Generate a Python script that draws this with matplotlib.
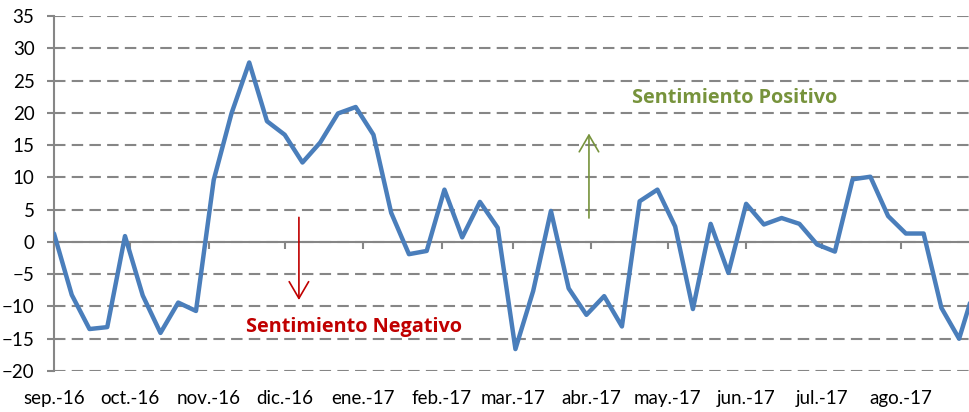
import matplotlib
matplotlib.use('Agg')
import matplotlib.pyplot as plt
import matplotlib.ticker as mticker
import pandas

# weekly sentiment index, first observation 1 sep 2016
start = '2016-09-01'
sentiment = [1.3, -8.2, -13.5, -13.2, 0.9, -8.3, -14.1, -9.4, -10.7, 9.6,
             19.9, 27.8, 18.7, 16.6, 12.3, 15.4, 19.9, 20.9, 16.6, 4.5,
             -1.9, -1.4, 8.1, 0.7, 6.2, 2.2, -16.6, -7.6, 4.8, -7.2,
             -11.3, -8.4, -13.1, 6.3, 8.1, 2.4, -10.4, 2.8, -4.8, 5.9,
             2.7, 3.7, 2.8, -0.4, -1.5, 9.7, 10.1, 4.0, 1.3, 1.3,
             -10.2, -15.0, -6.0]
month_labels = ['sep.-16', 'oct.-16', 'nov.-16', 'dic.-16', 'ene.-17', 'feb.-17',
                'mar.-17', 'abr.-17', 'may.-17', 'jun.-17', 'jul.-17', 'ago.-17']
y_ticks = list(range(-20, 40, 5))

GRID = '#868686'
BLUE = '#4a7ebb'
RED = '#c00000'
GREEN = '#77933c'
NOTE_FONT = ['Open Sans', 'DejaVu Sans']


def sentiment_plot():
    plt.rcParams['font.family'] = ['Lato', 'DejaVu Sans']
    dates = pandas.date_range(start, periods=len(sentiment), freq='7D')
    fig = plt.figure(figsize=(9.69, 4.12), dpi=100)
    ax = fig.add_axes([54 / 969, 1 - 371 / 412, 1 - 54 / 969, 355 / 412])

    ax.plot(dates, sentiment, color=BLUE, lw=3.2, solid_joinstyle='round',
            solid_capstyle='round', zorder=3)

    x0 = pandas.Timestamp(start)
    ax.set_xlim(x0, x0 + pandas.Timedelta(days=360.9))
    ax.set_ylim(-20, 35)
    ax.set_yticks(y_ticks)
    ax.yaxis.grid(True, color=GRID, lw=1.5, linestyle=(0, (5.5, 3)))
    ax.set_axisbelow(True)

    months = pandas.date_range(start, periods=len(month_labels), freq='MS')
    ax.set_xticks(months)
    ax.set_xticklabels(month_labels)
    ax.tick_params(axis='x', length=0, pad=14, labelsize=13.5, colors='black')
    ax.tick_params(axis='y', length=5, width=1.5, color=GRID, pad=9,
                   labelsize=13.5)
    for s in ('top', 'right', 'bottom'):
        ax.spines[s].set_visible(False)
    ax.spines['left'].set_color(GRID)
    ax.spines['left'].set_linewidth(1.5)

    # horizontal axis crossing at zero, with month ticks
    zero = ax.secondary_xaxis(20 / 55)
    zero.set_xticks(months)
    zero.xaxis.set_major_formatter(mticker.NullFormatter())
    zero.tick_params(axis='x', direction='out', length=5, width=1.5, color=GRID)
    zero.spines['bottom'].set_color(GRID)
    zero.spines['bottom'].set_linewidth(1.5)

    ax.annotate('', xy=(x0 + pandas.Timedelta(days=96.6), -9.0),
                xytext=(x0 + pandas.Timedelta(days=96.6), 3.8),
                arrowprops=dict(arrowstyle='->,head_length=1.2,head_width=0.7',
                                color=RED, lw=1.2, shrinkA=0, shrinkB=0))
    ax.text(x0 + pandas.Timedelta(days=118.5), -13.2, 'Sentimiento Negativo',
            color=RED, fontsize=14.3, fontweight='bold', ha='center',
            va='center', family=NOTE_FONT)

    ax.annotate('', xy=(x0 + pandas.Timedelta(days=211), 16.8),
                xytext=(x0 + pandas.Timedelta(days=211), 3.7),
                arrowprops=dict(arrowstyle='->,head_length=1.2,head_width=0.7',
                                color=GREEN, lw=1.2, shrinkA=0, shrinkB=0))
    ax.text(x0 + pandas.Timedelta(days=268.5), 22.3, 'Sentimiento Positivo',
            color=GREEN, fontsize=14.3, fontweight='bold', ha='center',
            va='center', family=NOTE_FONT)

    plt.savefig('out.png', dpi=100)


if __name__ == '__main__':
    sentiment_plot()
